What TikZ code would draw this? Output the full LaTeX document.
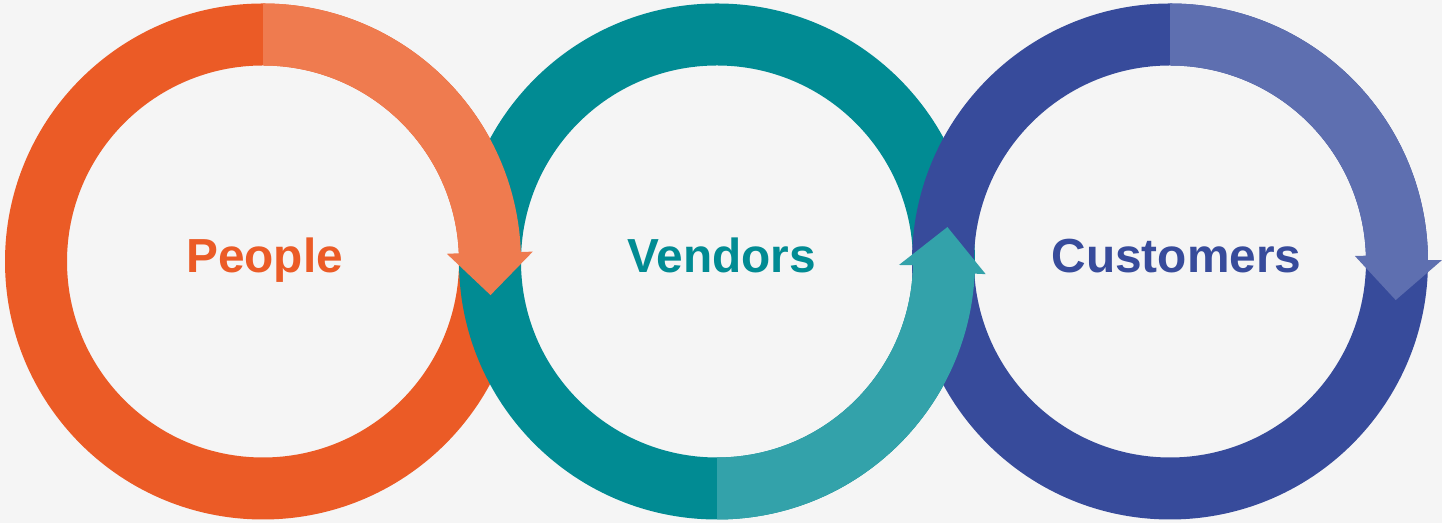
\documentclass[tikz,border=0pt]{standalone}
\usepackage{fontspec}
\setmainfont{Liberation Sans}
\definecolor{bggray}{HTML}{F5F5F5}
\definecolor{peopledark}{HTML}{EB5B26}
\definecolor{peoplelight}{HTML}{EF7B4F}
\definecolor{vendorsdark}{HTML}{018B93}
\definecolor{vendorslight}{HTML}{33A2AA}
\definecolor{custdark}{HTML}{374B9B}
\definecolor{custlight}{HTML}{5E6FB0}

\begin{document}
\begin{tikzpicture}[ringtext/.style={anchor=base, font=\fontsize{13.6}{16}\selectfont\bfseries}]
	\fill[bggray] (0,0) rectangle (14.42,5.23);
	\useasboundingbox (0,0) rectangle (14.42,5.23);
	\coordinate (c1) at (2.63,2.615);
	\coordinate (c2) at (7.17,2.615);
	\coordinate (c3) at (11.70,2.615);
	% full rings first
	\fill[peopledark, even odd rule] (c1) circle (2.58) (c1) circle (1.96);
	\fill[vendorsdark, even odd rule] (c2) circle (2.58) (c2) circle (1.96);
	% people arrow
	\fill[peoplelight] ([shift={(90:2.58)}]c1) arc[start angle=90, end angle=2.1, radius=2.58]
		-- ([shift={(2.1:2.70)}]c1) -- ([shift={(-8.4:2.30)}]c1) -- ([shift={(2.4:1.84)}]c1)
		-- ([shift={(2.4:1.96)}]c1) arc[start angle=2.4, end angle=90, radius=1.96] -- cycle;
	\fill[custdark, even odd rule] (c3) circle (2.58) (c3) circle (1.96);
	% vendors arrow
	\fill[vendorslight] ([shift={(270:2.58)}]c2) arc[start angle=270, end angle=357.3, radius=2.58]
		-- ([shift={(357.3:2.69)}]c2) -- ([shift={(8.5:2.33)}]c2) -- ([shift={(358.9:1.82)}]c2)
		-- ([shift={(358.9:1.96)}]c2) arc[start angle=358.9, end angle=270, radius=1.96] -- cycle;
	% customers arrow
	\fill[custlight] ([shift={(90:2.58)}]c3) arc[start angle=90, end angle=0.3, radius=2.58]
		-- ([shift={(0.3:2.72)}]c3) -- ([shift={(-9.7:2.29)}]c3) -- ([shift={(1.7:1.85)}]c3)
		-- ([shift={(1.7:1.96)}]c3) arc[start angle=1.7, end angle=90, radius=1.96] -- cycle;
	\node[ringtext, text=peopledark] (people) at (2.645,2.505) {People};
	\node[ringtext, text=vendorsdark] (vendors) at (7.215,2.505) {Vendors};
	\node[ringtext, text=custdark] (customers) at (11.765,2.505) {Customers};
\end{tikzpicture}
\end{document}
